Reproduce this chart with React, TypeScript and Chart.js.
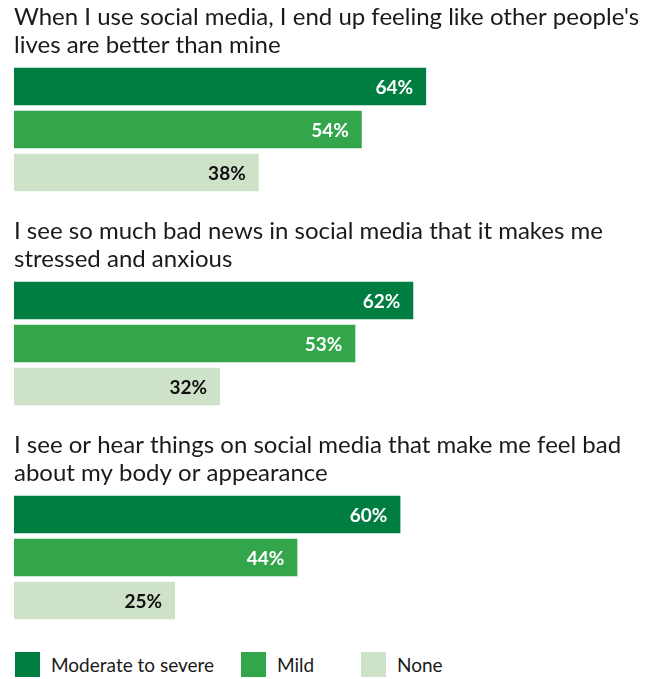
import React, { useEffect, useRef } from "react";
import { Chart, registerables } from "chart.js";

Chart.register(...registerables);

const seriesNames = ["Moderate to severe", "Mild", "None"];
const seriesColors = ["#007D40", "#33A64B", "#CEE2C9"];
const labelColors = ["#ffffff", "#ffffff", "#111111"];

const questionTitles: string[][] = [
  ["When I use social media, I end up feeling like other people's", "lives are better than mine"],
  ["I see so much bad news in social media that it makes me", "stressed and anxious"],
  ["I see or hear things on social media that make me feel bad", "about my body or appearance"],
];

const q1Values = [64, 54, 38];
const q2Values = [62, 53, 32];
const q3Values = [60, 44, 25];
const allValues = [q1Values, q2Values, q3Values];

const valueLabelPlugin = {
  id: "valueLabels",
  afterDatasetsDraw(chart: any) {
    const ctx = chart.ctx;
    const meta = chart.getDatasetMeta(0);
    const ds = chart.data.datasets[0];
    ctx.save();
    ctx.font = "bold 19px Lato";
    ctx.textAlign = "right";
    ctx.textBaseline = "middle";
    meta.data.forEach((bar: any, i: number) => {
      ctx.fillStyle = labelColors[i];
      ctx.fillText(ds.data[i] + "%", bar.x - 13, bar.y + 1);
    });
    ctx.restore();
  },
};

function QuestionChart({ title, values }: { title: string[]; values: number[] }) {
  const ref = useRef<HTMLCanvasElement | null>(null);
  useEffect(() => {
    if (!ref.current) return;
    const chart = new Chart(ref.current, {
      type: "bar",
      data: {
        labels: seriesNames,
        datasets: [
          {
            data: values,
            backgroundColor: seriesColors,
            borderWidth: 0,
            categoryPercentage: 1,
            barPercentage: 0.877,
          },
        ],
      },
      options: {
        indexAxis: "y",
        animation: false,
        responsive: false,
        maintainAspectRatio: false,
        layout: { padding: { left: 14, right: 4, top: 0, bottom: 20 } },
        scales: {
          x: { display: false, min: 0, max: 100 },
          y: { display: false },
        },
        plugins: {
          legend: { display: false },
          tooltip: { enabled: false },
          title: {
            display: true,
            text: title,
            align: "start",
            color: "#1a1a1a",
            font: { family: "Lato", size: 24, weight: "normal", lineHeight: 28 / 24 },
            padding: { top: 3, bottom: 6 },
          },
        },
      },
      plugins: [valueLabelPlugin],
    });
    return () => chart.destroy();
  }, [title, values]);
  return <canvas ref={ref} width={662} height={214} style={{ display: "block", width: 662, height: 214 }} />;
}

export default function App() {
  return (
    <div style={{ position: "absolute", left: 0, top: 0, width: 662, height: 679, background: "#fff", fontFamily: "Lato" }}>
      {allValues.map((v, i) => (
        <QuestionChart key={i} title={questionTitles[i]} values={v} />
      ))}
      <div style={{ position: "absolute", top: 652, left: 15, display: "flex", alignItems: "center", fontSize: 19, color: "#1a1a1a" }}>
        {seriesNames.map((name, i) => (
          <div key={name} style={{ display: "flex", alignItems: "center", width: i === 0 ? 226 : i === 1 ? 120 : undefined }}>
            <span style={{ display: "inline-block", width: 25, height: 25, background: seriesColors[i], marginRight: 11 }} />
            <span>{name}</span>
          </div>
        ))}
      </div>
    </div>
  );
}
